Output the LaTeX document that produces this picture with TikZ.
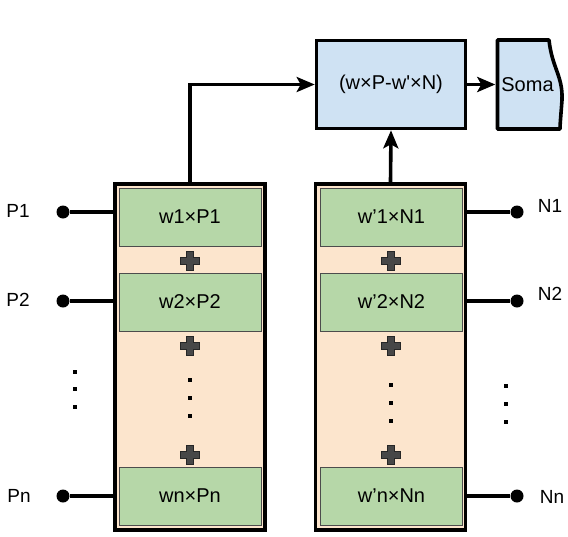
\documentclass[tikz,border=0pt]{standalone}
\usepackage{fontspec}
\setmainfont{Liberation Sans}
\usetikzlibrary{arrows.meta,positioning}
\definecolor{peach}{HTML}{FCE5CD}
\definecolor{leaf}{HTML}{B6D7A8}
\definecolor{sky}{HTML}{CFE2F3}
\definecolor{plusgray}{HTML}{474747}

\begin{document}
\begin{tikzpicture}[x=1pt,y=-1pt,
  every node/.style={font=\fontsize{20}{22}\selectfont},
  wire/.style={line width=3.6pt},
  arr/.style={wire,-{Stealth[length=18pt,width=15pt,inset=4pt]}},
  column/.style={draw,line width=3.6pt,fill=peach,inner sep=0pt,minimum width=150pt,minimum height=346pt},
  term/.style={fill=leaf,draw=black!70,line width=1pt,inner sep=0pt,minimum width=142pt,minimum height=58pt},
  pin/.style={circle,fill=black,inner sep=0pt,minimum size=13pt},
  tag/.style={font=\fontsize{19}{21}\selectfont},
  dotsq/.style={fill=black,inner sep=0pt,minimum size=4pt},
  plus sign/.pic={\path[fill=plusgray,draw=black!85,line width=0.7pt]
    (-3.5,-9.5) -- (3.5,-9.5) -- (3.5,-3.5) -- (9.5,-3.5) -- (9.5,3.5) -- (3.5,3.5)
    -- (3.5,9.5) -- (-3.5,9.5) -- (-3.5,3.5) -- (-9.5,3.5) -- (-9.5,-3.5) -- (-3.5,-3.5) -- cycle;}]
  \useasboundingbox (0,0) rectangle (568,536);

  % the two columns
  \node[column] (lcol) at (190,357) {};
  \node[column] (rcol) at (390.5,357) {};

  \node[term] (lt1) at (190,217) {w1×P1};
  \node[term] (lt2) at (190,302) {w2×P2};
  \node[term] (ltn) at (190,496) {wn×Pn};
  \node[term] (rt1) at (391.5,217) {w’1×N1};
  \node[term] (rt2) at (391.5,302) {w’2×N2};
  \node[term] (rtn) at (391.5,496) {w’n×Nn};

  \foreach \y in {261,346,455} {
    \pic at (190,\y) {plus sign};
    \pic at (391,\y) {plus sign};
  }
  \foreach \y [count=\i] in {380,398,416} \node[dotsq] (ld\i) at (190,\y) {};
  \foreach \y [count=\i] in {385,403,421} \node[dotsq] (rd\i) at (391,\y) {};
  \foreach \y [count=\i] in {372,389,407} \node[dotsq] (pd\i) at (75,\y) {};
  \foreach \y [count=\i] in {386,404,422} \node[dotsq] (nd\i) at (506,\y) {};

  % inputs
  \node[pin] (p1) at (63,212) {};
  \node[pin] (p2) at (63,301) {};
  \node[pin] (pn) at (63,496) {};
  \node[pin] (n1) at (517,212) {};
  \node[pin] (n2) at (517,301) {};
  \node[pin] (nn) at (517,496) {};
  \node[tag] (lp1) at (18,211) {P1};
  \node[tag] (lp2) at (18,300) {P2};
  \node[tag] (lpn) at (19,496) {Pn};
  \node[tag] (ln1) at (550,206) {N1};
  \node[tag] (ln2) at (550,294) {N2};
  \node[tag] (lnn) at (552,497) {Nn};
  \foreach \a in {p1,p2,pn} \draw[wire] (\a) -- (\a -| lcol.west);
  \foreach \a in {n1,n2,nn} \draw[wire] (\a) -- (\a -| rcol.east);

  % sum and soma
  \node[draw,line width=3.6pt,fill=sky,minimum width=149pt,minimum height=88pt] (sum) at (391,84.5) {(w×P-w\textquotesingle×N)};
  \draw[line width=3.6pt,fill=sky,line join=round]
    (497.5,40) -- (549,40) .. controls (552,68) and (563,76) .. (562,100)
    .. controls (561,114) and (560,124) .. (560,129) -- (497.5,129) -- cycle;
  \node[inner sep=0pt,minimum width=64pt,minimum height=88pt] (soma) at (527.5,84.5) {Soma};

  \draw[arr] (lcol.north) |- (sum.west);
  \draw[arr] (rcol.north) -- (sum.south);
  \draw[arr] (sum.east) -- (soma.west);
\end{tikzpicture}
\end{document}
